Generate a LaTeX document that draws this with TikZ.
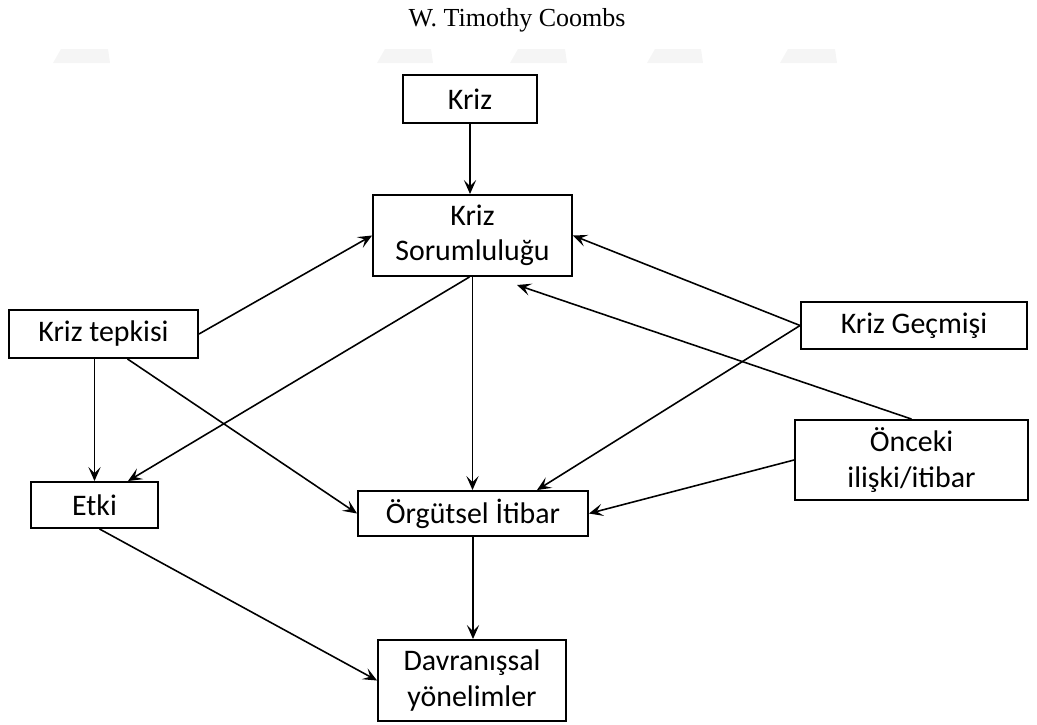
\documentclass[tikz,border=0pt]{standalone}
\usepackage{fontspec}
\setmainfont{Carlito}
\newfontfamily\titlefont{Liberation Serif}
\usepackage{tikz}
\usetikzlibrary{arrows.meta, calc}

\tikzset{
    kutu/.style={draw, line width=1.1pt, fill=white, inner sep=0pt, align=center,
        font=\fontsize{17pt}{20pt}\selectfont},
    ok/.style={line width=0.9pt, -{Stealth[length=8pt, width=7pt, inset=3.5pt]}},
    iz/.style={fill=black!4, draw=none}
}

\begin{document}
\begin{tikzpicture}[x=0.02cm, y=-0.02cm]
    \useasboundingbox (0,0) rectangle (1037,724);

    % baslik ve soluk izler
    \node[font=\titlefont\fontsize{14.8pt}{17pt}\selectfont] (baslik) at (517,20) {W. Timothy Coombs};
    \foreach \a/\b in {53/110, 377/433, 510/567, 647/703, 780/837} {
        \fill[iz] (\a+8,49) -- (\b-2,49) -- (\b,63) -- (\a,63) -- cycle;
    }

    % kutular
    \node[kutu, minimum width=2.68cm, minimum height=0.96cm] (kriz) at (470,99) {Kriz};
    \node[kutu, minimum width=3.98cm, minimum height=1.62cm] (sorum) at (472.5,235.5) {Kriz\\Sorumluluğu};
    \node[kutu, minimum width=3.78cm, minimum height=0.96cm] (tepki) at (103.5,334) {Kriz tepkisi};
    \node[kutu, minimum width=4.52cm, minimum height=0.94cm] (gecmis) at (914,325.5) {Kriz Geçmişi};
    \node[kutu, minimum width=4.66cm, minimum height=1.60cm] (onceki) at (911.5,460) {Önceki\\ilişki/itibar};
    \node[kutu, minimum width=2.54cm, minimum height=0.92cm] (etki) at (94.5,505) {Etki};
    \node[kutu, minimum width=4.60cm, minimum height=0.90cm] (itibar) at (473,513.5) {Örgütsel İtibar};
    \node[kutu, minimum width=3.76cm, minimum height=1.62cm] (davr) at (472,680.5) {Davranışsal\\yönelimler};

    \coordinate (oz) at (517,285);

    % oklar
    \draw[ok] (kriz.south) -- (kriz.south |- sorum.north);
    \draw[ok] (tepki.east) -- (sorum.west);
    \draw[ok] (gecmis.west) -- (sorum.east);
    \draw[ok] (onceki.north) -- (oz);
    \draw[ok] ($(sorum.south)+(-3,0)$) -- ($(etki.north east)+(-31,0)$);
    \draw[ok] (sorum.south) -- (sorum.south |- itibar.north);
    \draw[ok] (etki.north |- tepki.south) -- (etki.north);
    \draw[ok] ($(tepki.south)+(24,0)$) -- (itibar.west);
    \draw[ok] (gecmis.west) -- ($(itibar.north)+(64,0)$);
    \draw[ok] (onceki.west) -- (itibar.east);
    \draw[ok] (itibar.south) -- (itibar.south |- davr.north);
    \draw[ok] ($(etki.south)+(5,0)$) -- (davr.west);
\end{tikzpicture}
\end{document}
